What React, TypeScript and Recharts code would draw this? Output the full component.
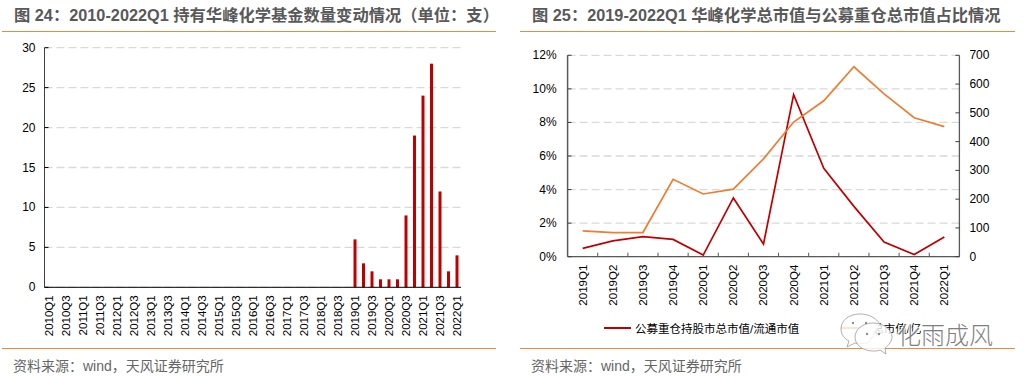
import { BarChart, Bar, LineChart, Line, XAxis, YAxis, CartesianGrid, Legend } from 'recharts';

const fundQuarters = [
  '2010Q1', '2010Q2', '2010Q3', '2010Q4', '2011Q1', '2011Q2', '2011Q3', '2011Q4',
  '2012Q1', '2012Q2', '2012Q3', '2012Q4', '2013Q1', '2013Q2', '2013Q3', '2013Q4',
  '2014Q1', '2014Q2', '2014Q3', '2014Q4', '2015Q1', '2015Q2', '2015Q3', '2015Q4',
  '2016Q1', '2016Q2', '2016Q3', '2016Q4', '2017Q1', '2017Q2', '2017Q3', '2017Q4',
  '2018Q1', '2018Q2', '2018Q3', '2018Q4', '2019Q1', '2019Q2', '2019Q3', '2019Q4',
  '2020Q1', '2020Q2', '2020Q3', '2020Q4', '2021Q1', '2021Q2', '2021Q3', '2021Q4', '2022Q1',
];
const fundCounts = [
  0, 0, 0, 0, 0, 0, 0, 0,
  0, 0, 0, 0, 0, 0, 0, 0,
  0, 0, 0, 0, 0, 0, 0, 0,
  0, 0, 0, 0, 0, 0, 0, 0,
  0, 0, 0, 0, 6, 3, 2, 1,
  1, 1, 9, 19, 24, 28, 12, 2, 4,
];
const fundTicks = [0, 5, 10, 15, 20, 25, 30];

const valueQuarters = [
  '2019Q1', '2019Q2', '2019Q3', '2019Q4', '2020Q1', '2020Q2', '2020Q3',
  '2020Q4', '2021Q1', '2021Q2', '2021Q3', '2021Q4', '2022Q1',
];
const holdingShare = [0.5, 0.94, 1.2, 1.03, 0.1, 3.5, 0.76, 9.66, 5.27, 3.0, 0.87, 0.13, 1.18];
const marketValue = [90, 84, 84, 269, 218, 235, 340, 468, 542, 660, 566, 483, 452];
const shareTicks = [0, 2, 4, 6, 8, 10, 12];
const valueTicks = [0, 100, 200, 300, 400, 500, 600, 700];

const fundData = fundQuarters.map((q, i) => ({ q, count: fundCounts[i] }));
const valueData = valueQuarters.map((q, i) => ({ q, share: holdingShare[i], value: marketValue[i] }));

const latin = '"Liberation Sans", "Noto Sans CJK SC", sans-serif';
const RED = '#C00000';
const ORANGE = '#ED7D31';
const GRID = '#D9D9D9';

const valueStep = 392 / valueQuarters.length;

function QuarterTick({ x, y, payload }: any) {
  return (
    <text
      x={x}
      y={y}
      transform={`rotate(-90 ${x} ${y})`}
      textAnchor="end"
      dominantBaseline="central"
      fontSize={11.5}
      fontFamily={latin}
      fill="#000"
    >
      {payload.value}
    </text>
  );
}

function BetweenTick({ x, y, payload, index }: any) {
  const axisY = y - 8;
  const last = index === valueQuarters.length - 1;
  return (
    <g>
      {index > 0 && <line x1={x - valueStep / 2} x2={x - valueStep / 2} y1={axisY} y2={axisY - 4} stroke="#595959" />}
      {last && <line x1={x + valueStep / 2} x2={x + valueStep / 2} y1={axisY} y2={axisY - 4} stroke="#595959" />}
      <QuarterTick x={x} y={y} payload={payload} />
    </g>
  );
}

function InsideTick({ x, y, payload, side, suffix, gap, color }: any) {
  const axisX = x + side * gap;
  return (
    <g>
      <line x1={axisX} x2={axisX + side * 4} y1={y} y2={y} stroke={color} />
      <text
        x={x}
        y={y}
        textAnchor={side > 0 ? 'end' : 'start'}
        dominantBaseline="central"
        fontSize={12}
        fontFamily={latin}
        fill="#000"
      >
        {payload.value}
        {suffix}
      </text>
    </g>
  );
}

function ValueLegend({ payload }: any) {
  const gaps = [42, 0];
  return (
    <div style={{ display: 'flex', alignItems: 'center', fontFamily: latin, fontSize: 11.5, color: '#000', whiteSpace: 'nowrap' }}>
      {(payload || []).map((item: any, i: number) => (
        <div key={item.value} style={{ display: 'flex', alignItems: 'center', marginRight: gaps[i] }}>
          <span style={{ display: 'inline-block', width: 27, height: 2, background: item.color, marginRight: 4 }} />
          {item.value}
        </div>
      ))}
    </div>
  );
}

function Heading({ left, children }: any) {
  return (
    <div
      style={{
        position: 'absolute',
        left,
        top: 3,
        height: 24,
        lineHeight: '24px',
        fontFamily: latin,
        fontSize: 16.3,
        fontWeight: 700,
        color: '#595959',
        whiteSpace: 'nowrap',
      }}
    >
      {children}
    </div>
  );
}

function Source({ left }: any) {
  return (
    <div
      style={{
        position: 'absolute',
        left,
        top: 356,
        height: 20,
        lineHeight: '20px',
        fontFamily: latin,
        fontSize: 14,
        color: '#666',
        whiteSpace: 'nowrap',
      }}
    >
      资料来源：wind，天风证券研究所
    </div>
  );
}

function Rule({ left, width, top }: any) {
  return <div style={{ position: 'absolute', left, width, top, height: 1, background: '#E98B3E' }} />;
}

function Watermark() {
  return (
    <>
      <svg width={70} height={50} style={{ position: 'absolute', left: 838, top: 310 }}>
        <g fill="rgba(255,255,255,0.8)" stroke="#8c8c8c" strokeWidth={0.7}>
          <path d="M22 4 C10 4 3 11 3 19 C3 25 7 29 11 31 L9 37 L17 33 C22 34 27 34 31 32 L42 14 C38 8 31 4 22 4 Z" />
          <path d="M35 13 C24 13 17 20 17 27 C17 35 25 41 35 41 C38 41 40 41 42 40 L48 44 L47 38 C51 35 54 31 54 27 C54 20 46 13 35 13 Z" />
        </g>
        <g fill="#8c8c8c">
          <circle cx={15} cy={13} r={1.2} />
          <circle cx={28} cy={13} r={1.2} />
          <circle cx={29} cy={24} r={1.2} />
          <circle cx={41} cy={24} r={1.2} />
        </g>
      </svg>
      <div
        style={{
          position: 'absolute',
          left: 897,
          top: 316,
          lineHeight: '36px',
          fontFamily: '"Noto Sans CJK SC", sans-serif',
          fontSize: 24,
          fontWeight: 300,
          color: '#7f7f7f',
          textShadow: '1px 1px 0 #fff, -1px -1px 0 #fff',
          whiteSpace: 'nowrap',
        }}
      >
        化雨成风
      </div>
    </>
  );
}

export default function App() {
  return (
    <div style={{ position: 'absolute', left: 0, top: 0, width: 1024, height: 377, background: '#fff', overflow: 'hidden' }}>
      <Heading left={14}>图 24：2010-2022Q1 持有华峰化学基金数量变动情况（单位：支）</Heading>
      <Rule left={2} width={494} top={31} />
      <Rule left={2} width={494} top={348} />
      <Source left={13} />

      <Heading left={532}>图 25：2019-2022Q1 华峰化学总市值与公募重仓总市值占比情况</Heading>
      <Rule left={520} width={495} top={31} />
      <Rule left={520} width={495} top={348} />
      <Source left={531} />

      <div style={{ position: 'absolute', left: 0, top: 0 }}>
        <BarChart
          width={512}
          height={377}
          data={fundData}
          barCategoryGap={0}
          margin={{ left: 43.5, right: 51, top: 47.7, bottom: 88.7 }}
        >
          <CartesianGrid horizontal vertical={false} stroke={GRID} strokeWidth={1.3} strokeDasharray="8 4" />
          <XAxis
            dataKey="q"
            interval={1}
            height={1}
            tickLine={false}
            tickSize={0}
            tickMargin={8}
            axisLine={{ stroke: '#000', strokeWidth: 1 }}
            tick={<QuarterTick />}
          />
          <YAxis
            width={1}
            domain={[0, 30]}
            ticks={fundTicks}
            tickLine={false}
            tickSize={0}
            tickMargin={9}
            axisLine={{ stroke: '#404040', strokeWidth: 1 }}
            tick={<InsideTick side={1} gap={9} color="#000" />}
          />
          <Bar dataKey="count" fill={RED} barSize={3} isAnimationActive={false} />
        </BarChart>
      </div>

      <div style={{ position: 'absolute', left: 512, top: 0 }}>
        <LineChart
          width={512}
          height={377}
          data={valueData}
          margin={{ left: 54.6, right: 63.6, top: 55.3, bottom: 119.3 }}
        >
          <CartesianGrid horizontal vertical={false} yAxisId="share" stroke={GRID} strokeWidth={1.3} strokeDasharray="8 4" />
          <XAxis
            dataKey="q"
            scale="band"
            interval={0}
            height={1}
            tickLine={false}
            tickSize={0}
            tickMargin={8}
            axisLine={{ stroke: '#595959', strokeWidth: 1.3 }}
            tick={<BetweenTick />}
          />
          <YAxis
            yAxisId="share"
            width={1}
            domain={[0, 12]}
            ticks={shareTicks}
            tickLine={false}
            tickSize={0}
            tickMargin={11}
            axisLine={{ stroke: '#595959', strokeWidth: 1.5 }}
            tick={<InsideTick side={1} gap={11} suffix="%" color="#404040" />}
          />
          <YAxis
            yAxisId="value"
            orientation="right"
            width={1}
            domain={[0, 700]}
            ticks={valueTicks}
            tickLine={false}
            tickSize={0}
            tickMargin={10}
            axisLine={{ stroke: '#595959', strokeWidth: 1.3 }}
            tick={<InsideTick side={-1} gap={10} color="#404040" />}
          />
          <Legend
            layout="horizontal"
            verticalAlign="middle"
            align="center"
            wrapperStyle={{ position: 'absolute', left: 92, top: 320, width: 'auto', height: 14 }}
            content={<ValueLegend />}
          />
          <Line
            yAxisId="share"
            dataKey="share"
            name="公募重仓持股市总市值/流通市值"
            stroke={RED}
            strokeWidth={1.7}
            dot={false}
            isAnimationActive={false}
          />
          <Line
            yAxisId="value"
            dataKey="value"
            name="总市值/亿"
            stroke={ORANGE}
            strokeWidth={1.7}
            dot={false}
            isAnimationActive={false}
          />
        </LineChart>
      </div>

      <Watermark />
    </div>
  );
}
